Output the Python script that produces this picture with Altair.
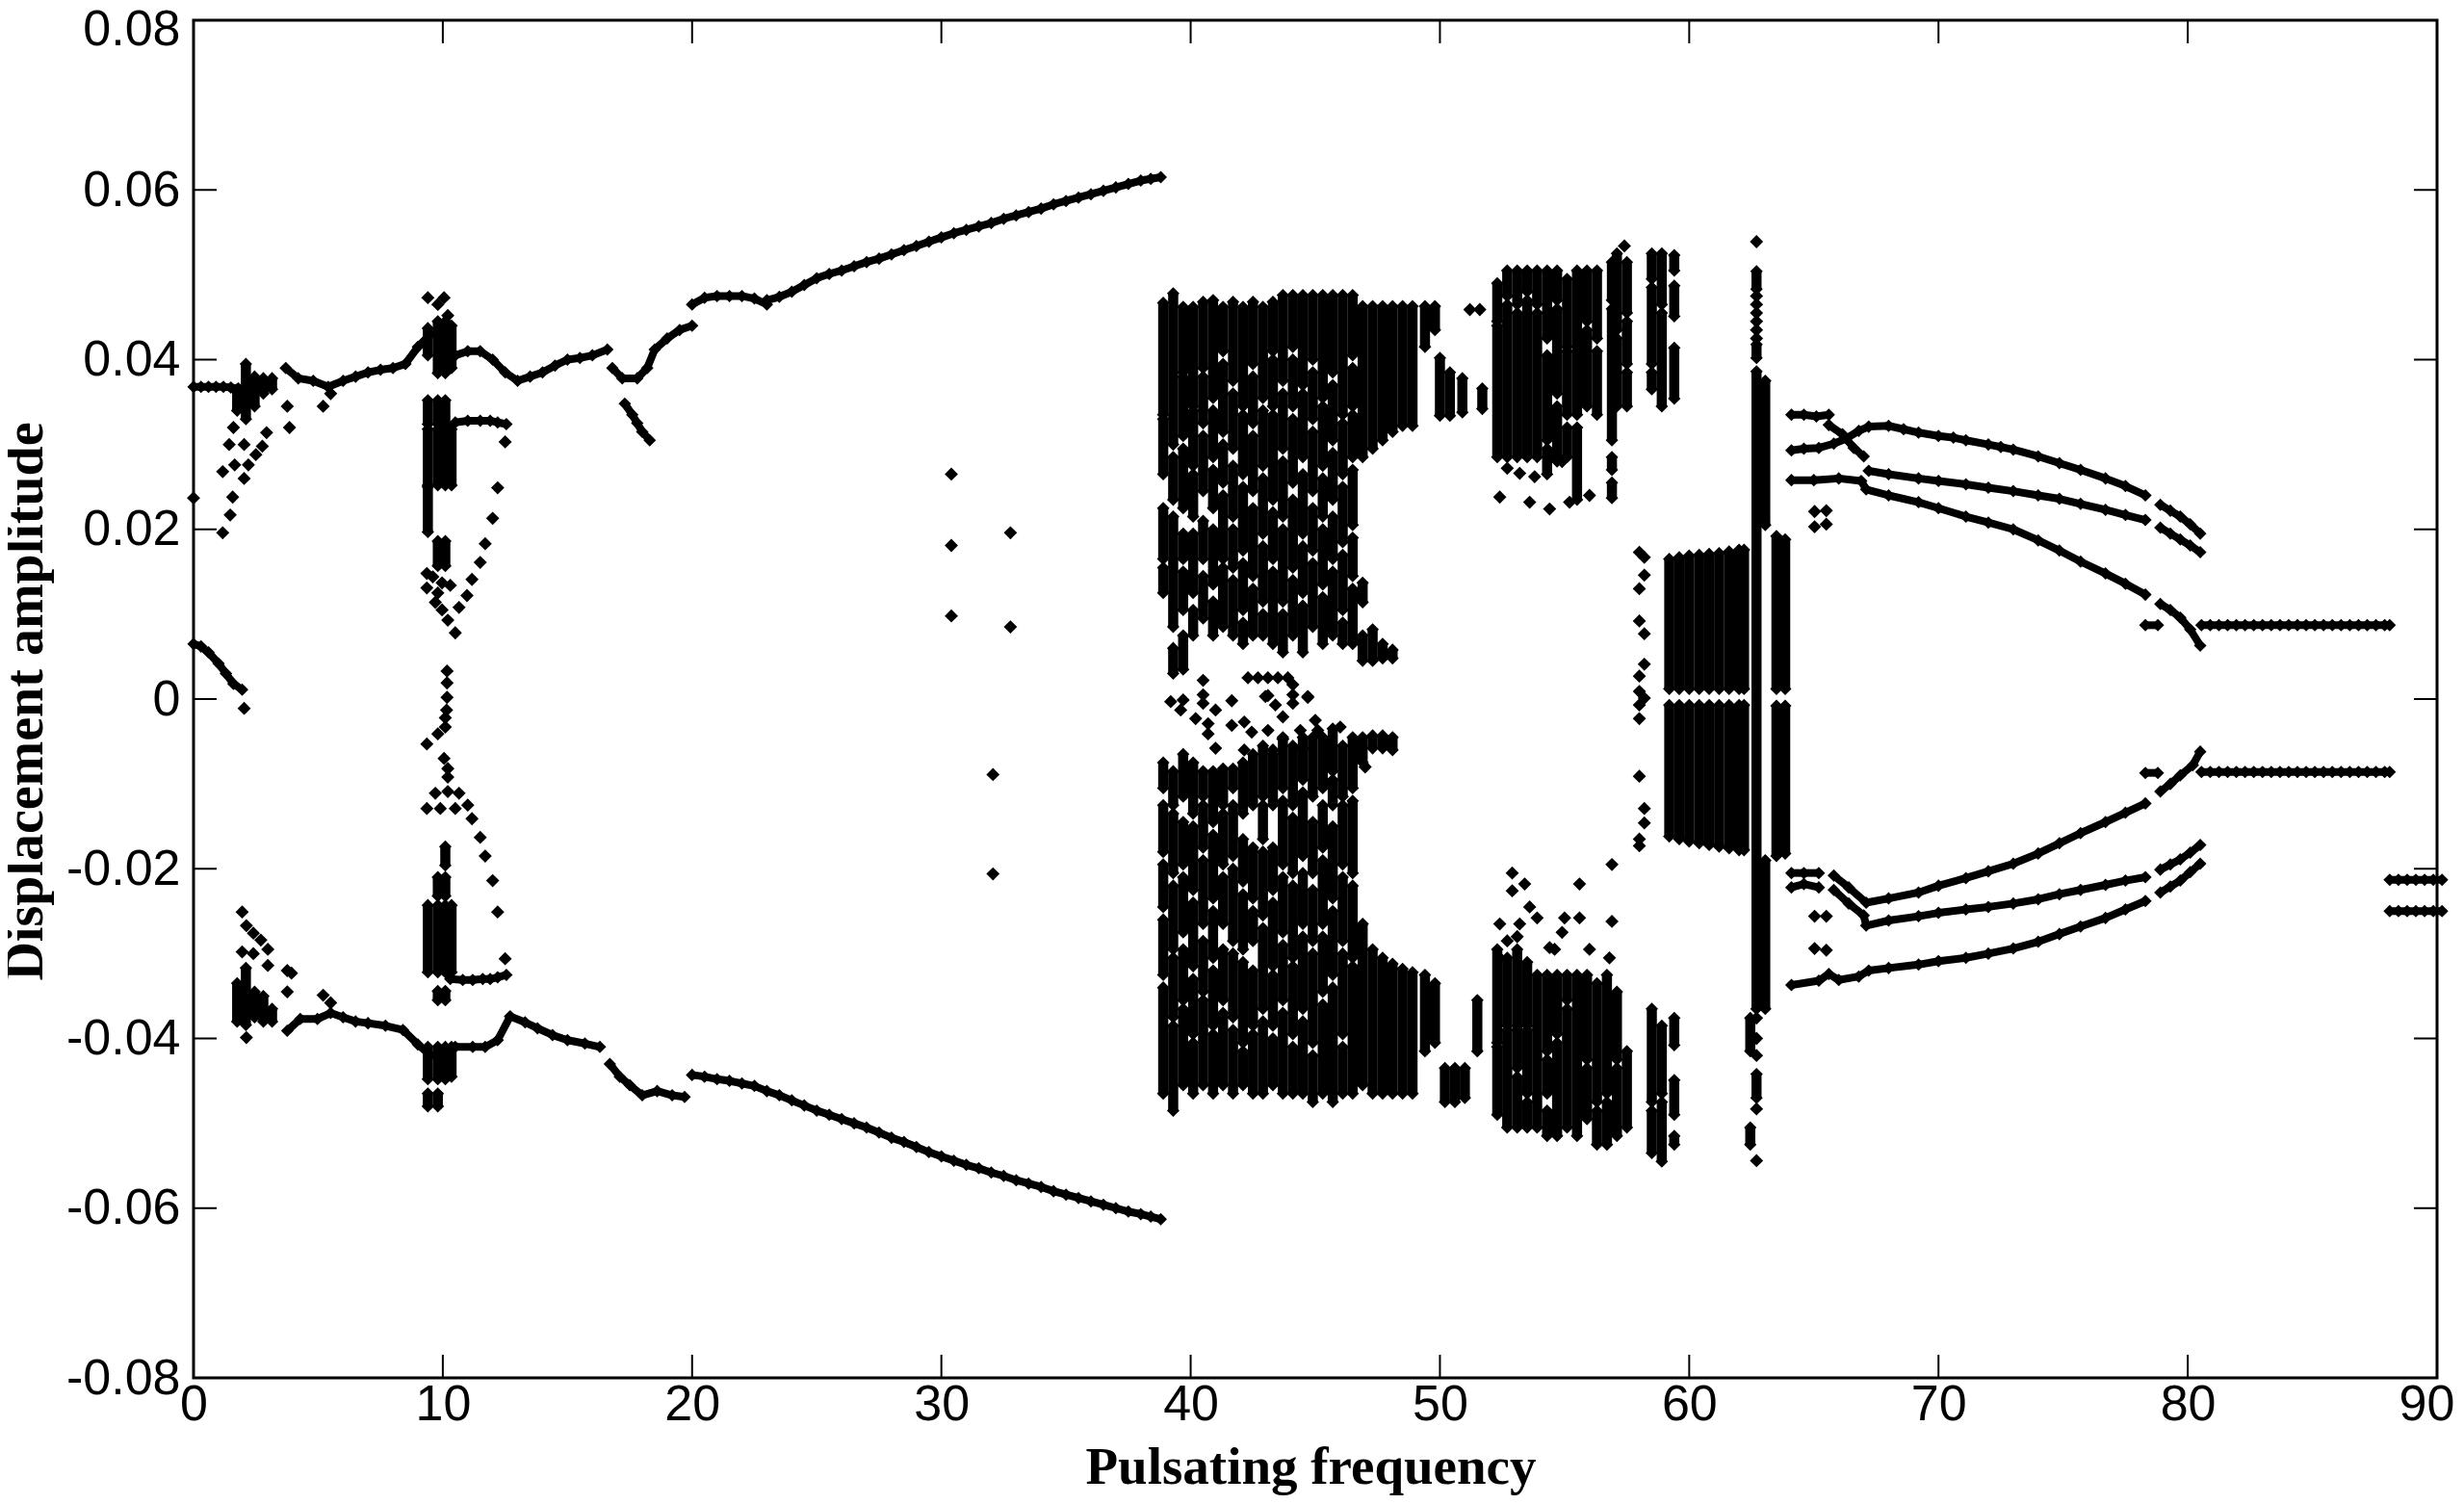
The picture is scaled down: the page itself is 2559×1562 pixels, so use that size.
import altair as alt
import pandas as pd

X_TICKS = [0, 10, 20, 30, 40, 50, 60, 70, 80, 90]
Y_TICKS = [-0.08, -0.06, -0.04, -0.02, 0, 0.02, 0.04, 0.06, 0.08]

FLAT_X = [80.55, 80.9, 81.25, 81.6, 81.95, 82.3, 82.65, 83, 83.35, 83.7, 84.05, 84.4, 84.75, 85.1, 85.45, 85.8, 86.15, 86.5, 86.85, 87.2, 87.55, 87.9, 88.1]
TAIL_X = [88.1, 88.45, 88.8, 89.15, 89.5, 89.85, 90.2]

# continuous branches: (x list, y list)
CURVES = [
    ([0, .3, .6, .9, 1.2, 1.5, 1.8, 2], [.0368, .0368, .0368, .0368, .0368, .0367, .0366, .0365]),
    ([0, .3, .6, 1, 1.3, 1.6, 1.95], [.0065, .0062, .0055, .0042, .003, .0018, .0011]),
    ([3.7, 4.2, 4.8, 5.4, 6, 6.5, 7, 7.5, 8, 8.5, 9, 9.5], [.039, .0378, .0375, .0368, .0375, .038, .0385, .0388, .039, .0395, .0415, .043]),
    ([10.5, 11, 11.5, 12, 12.5, 13, 13.5, 14, 14.5, 15, 15.5, 16, 16.6], [.0405, .041, .041, .04, .0385, .0375, .038, .0385, .0393, .04, .0402, .0405, .0412]),
    ([16.8, 17.2, 17.8, 18.2, 18.5, 19, 19.5, 20], [.039, .0378, .0378, .039, .0412, .0425, .0435, .044]),
    ([17.3, 17.6, 17.8, 18, 18.3], [.0348, .0335, .0325, .0315, .0305]),
    ([20, 20.5, 21, 21.5, 22, 22.5, 23], [.0465, .0473, .0475, .0475, .0475, .0472, .0465]),
    ([23, 23.5, 24, 24.5, 25, 25.5, 26, 26.5, 27, 27.5, 28, 28.5, 29, 29.5, 30, 30.5, 31, 31.5, 32, 32.5, 33, 33.5, 34, 34.5, 35, 35.5, 36, 36.5, 37, 37.5, 38, 38.4, 38.8],
     [.047, .0474, .048, .0488, .0496, .0501, .0505, .051, .0515, .0519, .0524, .0529, .0534, .0539, .0544, .0549, .0553, .0557, .0561, .0566, .057, .0574, .0578, .0583, .0587, .0591, .0595, .0599, .0603, .0607, .0611, .0613, .0615]),
    ([10.5, 11, 11.5, 11.9, 12.2, 12.55], [.0326, .0328, .0328, .0328, .0326, .0324]),
    ([3.76, 4.28, 4.97, 5.5, 6, 6.5, 7, 7.7, 8.4, 9, 9.5], [-.0391, -.0377, -.0377, -.037, -.0375, -.038, -.0382, -.0385, -.039, -.0407, -.042]),
    ([10.5, 11.2, 11.7, 12.2, 12.7, 13.3, 13.8, 14.4, 15, 15.7, 16.3], [-.041, -.041, -.041, -.0402, -.0374, -.0381, -.0388, -.0396, -.0402, -.0406, -.041]),
    ([16.7, 17.1, 17.5, 18, 18.6, 19.2, 19.7], [-.043, -.0445, -.0455, -.0467, -.0462, -.0467, -.0469]),
    ([20, 20.5, 21, 21.5, 22, 22.5, 23, 23.5, 24, 24.5, 25, 25.5, 26, 26.5, 27, 27.5, 28, 28.5, 29, 29.5, 30, 30.5, 31, 31.5, 32, 32.5, 33, 33.5, 34, 34.5, 35, 35.5, 36, 36.5, 37, 37.5, 38, 38.4, 38.8],
     [-.0443, -.0445, -.0448, -.045, -.0453, -.0456, -.0462, -.0467, -.0473, -.0479, -.0485, -.049, -.0495, -.05, -.0505, -.0511, -.0517, -.0522, -.0528, -.0534, -.0539, -.0544, -.0549, -.0553, -.0558, -.0562, -.0567, -.0571, -.0575, -.058, -.0584, -.0588, -.0592, -.0596, -.06, -.0604, -.0607, -.061, -.0613]),
    ([10.3, 10.8, 11.2, 11.6, 11.9, 12.2, 12.55], [-.033, -.0331, -.0331, -.033, -.033, -.0328, -.0325]),
    # right fan, upper half
    ([64.1, 64.6, 65.1, 65.6], [.0335, .0335, .0333, .0335]),
    ([64.1, 64.6, 65.2, 65.8, 66.3, 66.8, 67.2, 68, 68.6, 69.2, 70, 70.6, 71.1, 72, 72.5, 73, 74, 74.85, 75.7, 76.7, 77.5, 78.3],
     [.0293, .0295, .0296, .0301, .0307, .0316, .0321, .0322, .0318, .0314, .031, .0308, .0305, .03, .0297, .0294, .0286, .0278, .027, .026, .0251, .024]),
    ([78.9, 79.3, 79.7, 80.1, 80.5], [.0229, .0222, .0215, .0206, .0195]),
    ([67.2, 68, 69.2, 70, 71.1, 72, 73, 74, 74.85, 75.7, 76.7, 77.5, 78.3], [.0269, .0265, .026, .0257, .0253, .0249, .0245, .024, .0236, .023, .0223, .0217, .0211]),
    ([78.9, 79.3, 79.7, 80.1, 80.5], [.0202, .0195, .0188, .0181, .0173]),
    ([64.1, 65, 66, 66.9, 67.1, 68, 69.2, 70, 71.1, 72, 73, 74, 74.85, 75.7, 76.7, 77.5, 78.3],
     [.0258, .0258, .026, .0257, .0247, .024, .0232, .0225, .0215, .0208, .02, .0187, .0175, .0162, .0148, .0136, .0123]),
    ([78.9, 79.3, 79.7, 80.1, 80.5], [.0112, .0105, .0096, .0082, .0063]),
    ([65.6, 66.15, 66.6, 67], [.0323, .0312, .0296, .0286]),
    # right fan, lower half
    ([64.1, 64.6, 65.2], [-.0205, -.0205, -.0205]),
    ([64.1, 64.6, 65.2], [-.0222, -.0218, -.0222]),
    ([65.8, 66.4, 67.1, 68, 69.2, 70, 71.1, 72, 73, 74, 74.85, 75.7, 76.7, 77.5, 78.3],
     [-.0208, -.0222, -.024, -.0235, -.0228, -.022, -.0211, -.0203, -.0194, -.0182, -.017, -.0158, -.0145, -.0134, -.0123]),
    ([78.9, 79.3, 79.7, 80.2, 80.5], [-.0109, -.01, -.009, -.0078, -.0062]),
    ([65.8, 66.4, 67, 67.1, 68, 69.2, 70, 71.1, 72, 73, 74, 74.85, 75.7, 76.7, 77.5, 78.3],
     [-.0225, -.0241, -.0255, -.0267, -.0261, -.0256, -.0252, -.0248, -.0245, -.0241, -.0236, -.023, -.0225, -.0219, -.0214, -.021]),
    ([78.9, 79.3, 79.7, 80.1, 80.5], [-.0201, -.0195, -.0189, -.0181, -.0172]),
    ([64.1, 65.2, 65.6, 66, 66.8, 67.2, 68, 69.2, 70, 71.1, 72, 73, 74, 74.85, 75.7, 76.7, 77.5, 78.3],
     [-.0337, -.0332, -.0324, -.0331, -.0327, -.032, -.0317, -.0313, -.0309, -.0305, -.03, -.0294, -.0286, -.0277, -.0268, -.0258, -.0248, -.0238]),
    ([78.9, 79.3, 79.7, 80.1, 80.5], [-.0228, -.0221, -.0214, -.0204, -.0194]),
    ([78.3, 78.8], [.0087, .0087]),
    ([78.3, 78.8], [-.0087, -.0087]),
    (FLAT_X, [.0087] * len(FLAT_X)),
    (FLAT_X, [-.0086] * len(FLAT_X)),
    (TAIL_X, [-.0213] * len(TAIL_X)),
    (TAIL_X, [-.025] * len(TAIL_X)),
]

# vertical runs of overlapping markers in the dense bands: (x, [(from, to), ...])
COLUMNS_A_UP = [
    (38.9, [(.0467, .0335), (.033, .0265), (.0225, .0165), (.0155, .0125)]),
    (39.3, [(.0478, .0300), (.0285, .0235), (.0215, .0085), (.006, .003)]),
    (39.7, [(.0462, .0385), (.038, .031), (.0295, .0225), (.0195, .0165), (.015, .0105), (.0075, .0035)]),
    (40.1, [(.0462, .0345), (.034, .0275), (.0265, .0215), (.0195, .0125), (.0105, .0075)]),
    (40.5, [(.0468, .039), (.038, .0325), (.031, .0245), (.021, .0165), (.0145, .0095)]),
    (40.9, [(.047, .0355), (.034, .0285), (.027, .0225), (.020, .0135), (.0115, .0075)]),
    (41.3, [(.0462, .041), (.0395, .0315), (.030, .0255), (.024, .0165), (.0155, .0085)]),
    (41.7, [(.0468, .0375), (.036, .0295), (.0275, .0215), (.020, .0155), (.014, .0075)]),
    (42.1, [(.0462, .0345), (.0335, .0265), (.025, .0175), (.016, .0105), (.009, .0065)]),
    (42.5, [(.0468, .0395), (.038, .0325), (.031, .0245), (.0225, .0145), (.013, .0075)]),
    (42.9, [(.0462, .0355), (.034, .0275), (.026, .0195), (.018, .0115), (.010, .0075)]),
    (43.3, [(.0468, .041), (.040, .0345), (.0335, .0235), (.022, .0165), (.015, .0065)]),
    (43.7, [(.0476, .0375), (.036, .0295), (.028, .0215), (.020, .0115), (.010, .0055)]),
    (44.1, [(.0476, .0415), (.040, .0345), (.033, .0255), (.0235, .0155), (.014, .0075)]),
    (44.5, [(.0476, .037), (.036, .0285), (.0265, .0195), (.018, .0125), (.011, .0055)]),
    (44.9, [(.0476, .040), (.0385, .033), (.0315, .0245), (.0225, .0175), (.016, .0085)]),
    (45.3, [(.0476, .0355), (.0345, .0275), (.026, .0215), (.020, .0135), (.012, .0065)]),
    (45.7, [(.0476, .0385), (.037, .0305), (.029, .0235), (.0215, .0165), (.015, .0075)]),
    (46.1, [(.0476, .0335), (.0325, .0265), (.025, .0185), (.017, .0105), (.009, .0065)]),
    (46.5, [(.0476, .0405), (.039, .0345), (.0335, .0285), (.027, .0205), (.019, .0145), (.013, .0065)]),
    (46.9, [(.0463, .0285), (.0137, .0114), (.0075, .0045)]),
    (47.3, [(.0463, .0295), (.0082, .0045)]),
    (47.7, [(.0463, .0305), (.0065, .0048)]),
    (48.1, [(.0463, .0315), (.0058, .0048)]),
    (48.5, [(.0463, .0322)]),
    (48.9, [(.0463, .0322)]),
    (49.4, [(.0463, .0415)]),
    (49.8, [(.0463, .0435)]),
]
COLUMNS_A_DOWN = [
    (38.9, [(-.0075, -.0105), (-.0125, -.018), (-.0195, -.0245), (-.026, -.0325), (-.034, -.0465)]),
    (39.3, [(-.0085, -.0125), (-.0135, -.0205), (-.022, -.0295), (-.0305, -.0375), (-.0385, -.0485)]),
    (39.7, [(-.0065, -.0115), (-.0145, -.0195), (-.021, -.0275), (-.0295, -.0355), (-.0365, -.0455)]),
    (40.1, [(-.0075, -.0135), (-.015, -.0225), (-.024, -.0315), (-.033, -.0395), (-.0405, -.0465)]),
    (40.5, [(-.0085, -.0115), (-.0125, -.0175), (-.019, -.0265), (-.0285, -.0345), (-.0355, -.0455)]),
    (40.9, [(-.0085, -.0145), (-.016, -.0235), (-.025, -.0305), (-.032, -.0385), (-.0395, -.0465)]),
    (41.3, [(-.0082, -.0125), (-.0135, -.0195), (-.021, -.0265), (-.0295, -.0355), (-.037, -.0455)]),
    (41.7, [(-.0082, -.0105), (-.0125, -.0185), (-.020, -.0285), (-.030, -.0375), (-.039, -.0465)]),
    (42.1, [(-.0075, -.0135), (-.0165, -.0215), (-.023, -.0295), (-.031, -.0405), (-.0415, -.0455)]),
    (42.5, [(-.0065, -.0125), (-.0175, -.0235), (-.025, -.0285), (-.032, -.0385), (-.0395, -.0465)]),
    (42.9, [(-.0055, -.0115), (-.0125, -.0165), (-.018, -.0255), (-.027, -.0365), (-.038, -.0465)]),
    (43.3, [(-.0065, -.0125), (-.0175, -.0225), (-.024, -.0315), (-.0325, -.0385), (-.040, -.0455)]),
    (43.7, [(-.0045, -.0105), (-.012, -.0195), (-.021, -.0275), (-.029, -.0355), (-.037, -.0465)]),
    (44.1, [(-.0055, -.0125), (-.014, -.0205), (-.022, -.0305), (-.0315, -.0395), (-.041, -.0465)]),
    (44.5, [(-.0045, -.0095), (-.011, -.0185), (-.0205, -.0265), (-.028, -.0365), (-.038, -.0465)]),
    (44.9, [(-.0045, -.0115), (-.0145, -.0205), (-.0225, -.0285), (-.030, -.0405), (-.042, -.0475)]),
    (45.3, [(-.0045, -.0105), (-.0125, -.0175), (-.019, -.0265), (-.028, -.0345), (-.036, -.0465)]),
    (45.7, [(-.0035, -.0085), (-.0095, -.0125), (-.015, -.0235), (-.025, -.0325), (-.034, -.0475)]),
    (46.1, [(-.0055, -.0115), (-.0125, -.0195), (-.021, -.0285), (-.030, -.0395), (-.041, -.0465)]),
    (46.5, [(-.0045, -.0105), (-.012, -.0205), (-.022, -.0305), (-.0315, -.0465)]),
    (46.9, [(-.0045, -.0075), (-.0265, -.0455)]),
    (47.3, [(-.0043, -.0058), (-.0295, -.0465)]),
    (47.7, [(-.0043, -.0058), (-.0305, -.0465)]),
    (48.1, [(-.0045, -.006), (-.0312, -.0465)]),
    (48.5, [(-.0318, -.0465)]),
    (48.9, [(-.0322, -.0465)]),
    (49.4, [(-.0325, -.0415)]),
    (49.8, [(-.0335, -.0405)]),
]
COLUMNS_B_UP = [
    (50.0, [(.0402, .0334)]),
    (50.4, [(.0385, .0334)]),
    (50.9, [(.0378, .0338)]),
    (51.7, [(.0366, .0342)]),
    (52.3, [(.049, .0445), (.044, .0285)]),
    (52.7, [(.0505, .0475), (.0465, .0285)]),
    (53.1, [(.0505, .0465), (.0455, .0285)]),
    (53.5, [(.0505, .048), (.047, .0285)]),
    (53.9, [(.0505, .0465), (.0455, .0285)]),
    (54.3, [(.0505, .0425), (.0405, .0305), (.0295, .0265)]),
    (54.7, [(.0505, .047), (.046, .036), (.0345, .028)]),
    (55.1, [(.0495, .0415), (.041, .0335), (.032, .0285)]),
    (55.5, [(.0505, .0335), (.032, .0235)]),
    (55.9, [(.0505, .0445), (.0435, .0345)]),
    (56.3, [(.0505, .0425), (.041, .0335)]),
    (56.9, [(.0515, .047), (.046, .0305), (.0285, .027), (.0255, .0237)]),
    (57.1, [(.0525, .0435), (.0425, .0345)]),
    (57.5, [(.0515, .0455), (.0445, .0395), (.0385, .0345)]),
    (58.5, [(.0525, .0495), (.0485, .0395), (.0385, .0365)]),
    (58.9, [(.0525, .0465), (.0455, .0345)]),
    (59.4, [(.0523, .0505), (.0487, .0451), (.0414, .0354)]),
]
COLUMNS_B_DOWN = [
    (50.2, [(-.0435, -.0475)]),
    (50.6, [(-.0435, -.0475)]),
    (51.0, [(-.0435, -.047)]),
    (51.5, [(-.0355, -.0415)]),
    (52.3, [(-.0295, -.0405), (-.041, -.049)]),
    (52.7, [(-.0305, -.0385), (-.039, -.0505)]),
    (53.1, [(-.0295, -.0435), (-.0445, -.0505)]),
    (53.5, [(-.031, -.0385), (-.039, -.0465), (-.0475, -.0505)]),
    (53.9, [(-.0325, -.0505)]),
    (54.3, [(-.0325, -.0415), (-.0425, -.0465), (-.0485, -.0515)]),
    (54.7, [(-.0325, -.0395), (-.0405, -.0515)]),
    (55.1, [(-.0325, -.0355), (-.0365, -.0505)]),
    (55.5, [(-.0325, -.0515)]),
    (55.9, [(-.0325, -.0425), (-.0435, -.0495)]),
    (56.3, [(-.0335, -.0475), (-.0485, -.0525)]),
    (56.7, [(-.0325, -.0465), (-.0475, -.0525)]),
    (57.1, [(-.0345, -.0425), (-.0435, -.0515)]),
    (57.5, [(-.0415, -.0505)]),
    (58.5, [(-.0365, -.0475), (-.0485, -.0535)]),
    (58.9, [(-.0385, -.0465), (-.0475, -.0545)]),
    (59.4, [(-.0376, -.0408), (-.0449, -.049), (-.0515, -.0525)]),
]
COLUMNS_C = [
    (59.2, [(.0165, .0012), (-.0007, -.0162)]),
    (59.6, [(.0167, .0012), (-.0007, -.0165)]),
    (60.0, [(.0169, .0012), (-.0007, -.0168)]),
    (60.4, [(.017, .0012), (-.0007, -.017)]),
    (60.8, [(.0171, .0012), (-.0007, -.0172)]),
    (61.2, [(.0172, .0012), (-.0007, -.0174)]),
    (61.6, [(.0174, .0012), (-.0007, -.0176)]),
    (62.0, [(.0176, .0012), (-.0007, -.0178)]),
    (62.2, [(.0176, .0012), (-.0007, -.0178)]),
    (62.7, [(.0504, .0483), (.0418, .0402), (.0386, -.0365), (-.0442, -.047)]),
    (63.05, [(.0375, .0205), (-.019, -.0365)]),
    (63.5, [(.0192, .0012), (-.0008, -.0185)]),
    (63.85, [(.0188, .0012), (-.0008, -.0182)]),
    (62.45, [(-.0376, -.0415), (-.0505, -.0525)]),
    (9.4, [(.0437, .0405), (.0352, .0324), (.0318, .0252), (.025, .0197), (-.0243, -.0322), (-.041, -.0448), (-.0465, -.048)]),
    (9.8, [(.0445, .0384), (.0352, .0324), (.0318, .0252), (.0186, .0157), (-.021, -.0232), (-.0243, -.0322), (-.0344, -.0355), (-.041, -.0448), (-.0465, -.048)]),
    (10.1, [(.0445, .0384), (.0352, .0324), (.0318, .0252), (.0186, .0157), (-.0174, -.0196), (-.021, -.0232), (-.0243, -.0322), (-.0344, -.0355), (-.041, -.0448)]),
    (10.35, [(.044, .039), (.0318, .0252), (-.0243, -.0322), (-.041, -.0445)]),
    (2.1, [(.0395, .033), (-.0317, -.0384)]),
    (1.75, [(.0365, .034), (-.0335, -.038)]),
    (2.45, [(.038, .0345), (-.0345, -.0375)]),
    (2.8, [(.0378, .036), (-.035, -.038)]),
    (3.15, [(.0378, .0365), (-.0365, -.038)]),
]
# separate markers
DOTS_X = [1.6, 1.43, 2.03, 1.17, 1.65, 1.57, 1.47, 1.17, 2.93, 2.76, 2.5, 2.2, 2.03, 3.76, 3.85, 0, 2.03,
          5.2, 5.5, 9.4, 10.05, 9.8, 10.2, 9.36, 9.6, 9.97, 10.3, 9.36, 9.8, 9.7, 9.97, 10.2, 10.5,
          10.65, 10.97, 11.17, 11.5, 11.7, 12, 12.2, 12.5, 10.17, 10.17, 10.17, 10.15, 10.1, 10.1, 9.8, 9.36, 10.05, 10.2,
          10.2, 9.7, 10.2, 10.65, 11, 9.36, 9.9, 10.5, 11.17, 11.5, 11.7, 12, 12.2, 12.5,
          1.95, 2.12, 2.4, 2.7, 2.98, 2.4, 1.95, 2.98, 3.76, 3.93, 3.76, 2.12, 5.2, 5.5,
          30.4, 30.4, 30.4, 32.77, 32.77, 32.07, 32.07,
          65.03, 65.5, 65.03, 65.5, 65.03, 65.5, 65.03, 65.5,
          39.2, 39.7, 39.6, 40.5, 40.5, 40.5, 41.65, 41, 40.2, 40.7, 40.7, 41.65, 42.15, 42.45, 43, 43.4, 44.1, 44.7, 43.7, 45, 43.1, 43.7, 44.4, 45.1, 46, 41, 42.15, 43.3, 44.5,
          42.3, 42.7, 43.1, 43.5, 43.9, 43.1, 44.1, 44.1, 44.7, 47,
          58, 58.2, 58.2, 58, 58, 58.2, 58.2, 58, 58, 58.2, 58, 58, 58, 58.2, 58.2, 58, 58,
          51.2, 51.6, 57.4, 62.7, 62.7, 62.7, 62.7, 62.7, 62.7, 62.7, 62.7, 62.7, 62.7, 62.7, 62.7,
          52.9, 52.9, 53.4, 53.6, 53.9, 53.2, 53.1, 52.4, 52.7, 52.4, 54.4, 55, 55.6, 55.6, 54.6, 54.9, 56.9, 56.9, 56, 56.8,
          52.4, 53.6, 54.4, 55.2, 56, 53.8, 53.2, 52.7, 54.9]
DOTS_Y = [.032, .03, .03, .0268, .0276, .0238, .0217, .0196, .0314, .0298, .0288, .0276, .026, .0345, .032, .0237, -.0011,
          .0345, .036, .0473, .0473, .0465, .0452, .0148, .0144, .0137, .0134, .0131, .0125, .0114, .0105, .0093, .0078,
          .0108, .0122, .0141, .0161, .0183, .0213, .0249, .0303, .0033, .0019, .0002, -.0013, -.0033, -.0022, -.0041, -.0053, -.007, -.0082,
          -.0092, -.0111, -.0109, -.0111, -.0125, -.0129, -.0129, -.0129, -.0141, -.0163, -.0185, -.0214, -.0251, -.0306,
          -.0251, -.0267, -.0276, -.0284, -.0295, -.03, -.0298, -.0314, -.032, -.0323, -.0345, -.0399, -.0349, -.0358,
          .0265, .0181, .0098, .0196, .0085, -.0089, -.0206,
          .0221, .0222, .0203, .0206, -.0256, -.0256, -.0294, -.0296,
          -.0003, -.0001, -.0013, .0022, .0005, -.0005, -.0002, -.0013, -.0023, -.0029, -.0041, -.0031, -.0027, -.0039, .0003, -.0007, .0005, .0003, -.0021, -.0025, -.0037, -.0047, -.0037, -.0037, -.0033, -.0058, -.006, -.006, -.0058,
          .0025, .0025, .0025, .0025, .0025, .0004, .0017, -.0005, .0002, -.008,
          .0173, .0167, .0146, .013, .0092, .0077, .0041, .0027, .0009, .0001, -.0007, -.0023, -.0091, -.0129, -.0146, -.0165, -.0173,
          .0459, .0459, .0534, .0539, .0475, .0465, .0455, .0445, .0435, .0425, -.0376, -.04, -.042, -.0483, -.0544,
          -.0205, -.0226, -.0218, -.0245, -.0258, -.0265, -.028, -.0265, -.0285, -.0305, -.0293, -.0258, -.0218, -.0258, -.0295, -.0275, -.0195, -.0262, -.0295, -.0305,
          .0238, .0232, .0224, .0232, .024, .0262, .0266, .0272, .028]

n = min(len(DOTS_X), len(DOTS_Y))
dots = pd.DataFrame({"f": DOTS_X[:n], "a": DOTS_Y[:n]})

curve_rows = []
for i, (xs, ys) in enumerate(CURVES):
    for x, y in zip(xs, ys):
        curve_rows.append({"f": x, "a": y, "c": i})
curves = pd.DataFrame(curve_rows)

seg_rows, cap_rows = [], []
for block in (COLUMNS_A_UP, COLUMNS_A_DOWN, COLUMNS_B_UP, COLUMNS_B_DOWN, COLUMNS_C):
    for x, runs in block:
        for a, b in runs:
            seg_rows.append({"f": x, "a": a, "b": b})
            cap_rows.append({"f": x, "a": a})
            cap_rows.append({"f": x, "a": b})
segs = pd.DataFrame(seg_rows)
caps = pd.DataFrame(cap_rows)

W, H = 2330, 1410
x_scale = alt.Scale(domain=[0, 90], nice=False, zero=False)
y_scale = alt.Scale(domain=[-0.08, 0.08], nice=False, zero=False)
fx = alt.X("f:Q", scale=x_scale)
fy = alt.Y("a:Q", scale=y_scale)

x_axis = alt.Axis(values=X_TICKS, tickSize=0, domain=False, grid=False, labelFont="Liberation Sans",
                  labelFontSize=52, labelColor="black", labelPadding=2, labelAngle=0, format="d",
                  labelOffset={"condition": {"test": "datum.value>85", "value": -11}, "value": 0},
                  title="Pulsating frequency", titleFont="Liberation Serif", titleFontSize=55,
                  titleFontWeight="bold", titleColor="black", titleX=1160, titleY=66, titleAnchor="middle",
                  labelFlush=False, labelOverlap=False)
y_axis = alt.Axis(values=Y_TICKS, tickSize=0, domain=False, grid=False, labelFont="Liberation Sans",
                  labelFontSize=52, labelColor="black", labelPadding=14,
                  labelOffset={"condition": {"test": "datum.value>0.07", "value": 9}, "value": 0},
                  labelExpr="datum.value==0?'0':replace(format(datum.value,'.2f'),'\u2212','-')",
                  title="Displacement amplitude", titleFont="Liberation Serif", titleFontSize=56,
                  titleFontWeight="bold", titleColor="black", titleX=-146, titleY=707, titleAnchor="middle",
                  labelFlush=False, labelOverlap=False)

xt = pd.DataFrame({"f": X_TICKS[1:-1]})
yt = pd.DataFrame({"a": Y_TICKS[1:-1]})
TICK = 24
ticks = [
    alt.Chart(xt).mark_rule(color="black", strokeWidth=2).encode(x=alt.X("f:Q", scale=x_scale, axis=x_axis), y=alt.value(H), y2=alt.value(H - TICK)),
    alt.Chart(xt).mark_rule(color="black", strokeWidth=2).encode(x=fx, y=alt.value(0), y2=alt.value(TICK)),
    alt.Chart(yt).mark_rule(color="black", strokeWidth=2).encode(y=alt.Y("a:Q", scale=y_scale, axis=y_axis), x=alt.value(0), x2=alt.value(TICK)),
    alt.Chart(yt).mark_rule(color="black", strokeWidth=2).encode(y=fy, x=alt.value(W), x2=alt.value(W - TICK)),
]

columns = alt.Chart(segs).mark_rule(color="black", strokeWidth=10.5).encode(x=fx, y=fy, y2="b:Q")
cap_marks = alt.Chart(caps).mark_point(shape="diamond", filled=True, color="black", size=170, opacity=1).encode(x=fx, y=fy)
lines = alt.Chart(curves).mark_line(color="black", strokeWidth=8, strokeJoin="round").encode(x=fx, y=fy, detail="c:N")
curve_marks = alt.Chart(curves).mark_point(shape="diamond", filled=True, color="black", size=170, opacity=1).encode(x=fx, y=fy)
dot_marks = alt.Chart(dots).mark_point(shape="diamond", filled=True, color="black", size=190, opacity=1).encode(x=fx, y=fy)

chart = alt.layer(*ticks, columns, cap_marks, lines, curve_marks, dot_marks).properties(
    width=W, height=H,
    autosize=alt.AutoSizeParams(type="none"),
    padding={"left": 193, "top": 13, "right": 20, "bottom": 123},
    background="white",
).configure_view(stroke="black", strokeWidth=3)

chart.save("out.html", embed_options={"renderer": "svg", "actions": False})
